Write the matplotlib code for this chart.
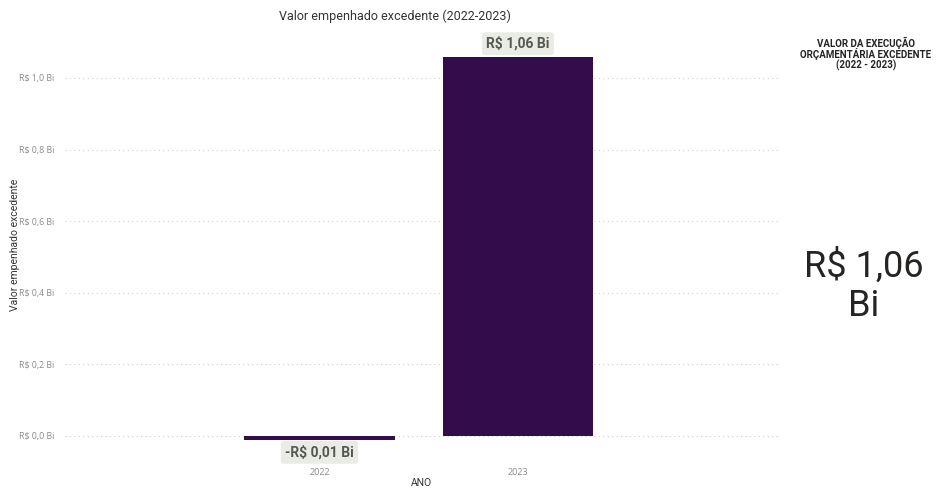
import matplotlib
matplotlib.use("Agg")
import matplotlib.pyplot as plt

# Valor empenhado excedente, em bilhões de reais
anos = ["2022", "2023"]
valores_bi = [-0.01, 1.06]
yticks = [0.0, 0.2, 0.4, 0.6, 0.8, 1.0]
total_bi = 1.06

BAR_COLOR = "#330C4B"
LABEL_BG = "#E9EBE5"
LABEL_FG = "#555750"


def fmt_bi(v, casas=2):
    s = f"{abs(v):.{casas}f}".replace(".", ",")
    return ("-" if v < 0 else "") + f"R$ {s} Bi"


plt.rcParams["font.family"] = ["Roboto", "DejaVu Sans"]

fig = plt.figure(figsize=(9.39, 4.90), dpi=100)
ax = fig.add_axes([65 / 939, 0.0884, (778 - 65) / 939, 0.9139 - 0.0884])

x = list(range(len(anos)))
ax.bar(x, valores_bi, width=0.76, color=BAR_COLOR, zorder=3)

ax.set_xlim(-1.282, 2.31)
ax.set_ylim(-0.03, 1.1)

ax.set_yticks(yticks)
ax.set_yticklabels([fmt_bi(v, 1) for v in yticks], fontsize=6.3, color="#8A8A8A",
                   family=["Open Sans", "DejaVu Sans"])
ax.set_xticks(x)
ax.set_xticklabels(anos, fontsize=6.5, color="#8A8A8A", family=["Open Sans", "DejaVu Sans"])
ax.tick_params(axis="both", length=0)
ax.tick_params(axis="x", pad=15)
ax.tick_params(axis="y", pad=8)

ax.grid(axis="y", linestyle=(0, (1, 3)), color="#CFCFCF", linewidth=0.8, zorder=0)
for s in ax.spines.values():
    s.set_visible(False)

ax.set_xlabel("ANO", fontsize=7.5, color="#333333")
ax.xaxis.set_label_coords(0.5, -(478 - 446.7) / 404.5)
ax.set_ylabel("Valor empenhado excedente", fontsize=7.5, color="#333333")
ax.yaxis.set_label_coords((20 - 65) / 713, 0.5)

# rótulos de dados
box = dict(boxstyle="round,pad=0.3,rounding_size=0.2", facecolor=LABEL_BG, edgecolor="none")
for xi, v in zip(x, valores_bi):
    if v >= 0:
        ax.annotate(fmt_bi(v), (xi, v), xytext=(0, 4), textcoords="offset points",
                    ha="center", va="bottom", fontsize=10, fontweight="bold",
                    color=LABEL_FG, bbox=box)
    else:
        ax.annotate(fmt_bi(v), (xi, v), xytext=(0, -4), textcoords="offset points",
                    ha="center", va="top", fontsize=10, fontweight="bold",
                    color=LABEL_FG, bbox=box)

fig.text(395 / 939, 1 - 16 / 490, "Valor empenhado excedente (2022-2023)",
         ha="center", va="center", fontsize=9, color="#333333")

# cartão lateral
fig.text(866 / 939, 1 - 54 / 490,
         "VALOR DA EXECUÇÃO\nORÇAMENTÁRIA EXCEDENTE\n(2022 - 2023)",
         ha="center", va="center", fontsize=7, fontweight="bold", color="#252423",
         linespacing=0.95)
fig.text(864 / 939, 1 - 286 / 490, fmt_bi(total_bi).replace(" Bi", "\nBi"),
         ha="center", va="center", fontsize=26, color="#252423", linespacing=1.1)

fig.savefig("out.png", dpi=100)
